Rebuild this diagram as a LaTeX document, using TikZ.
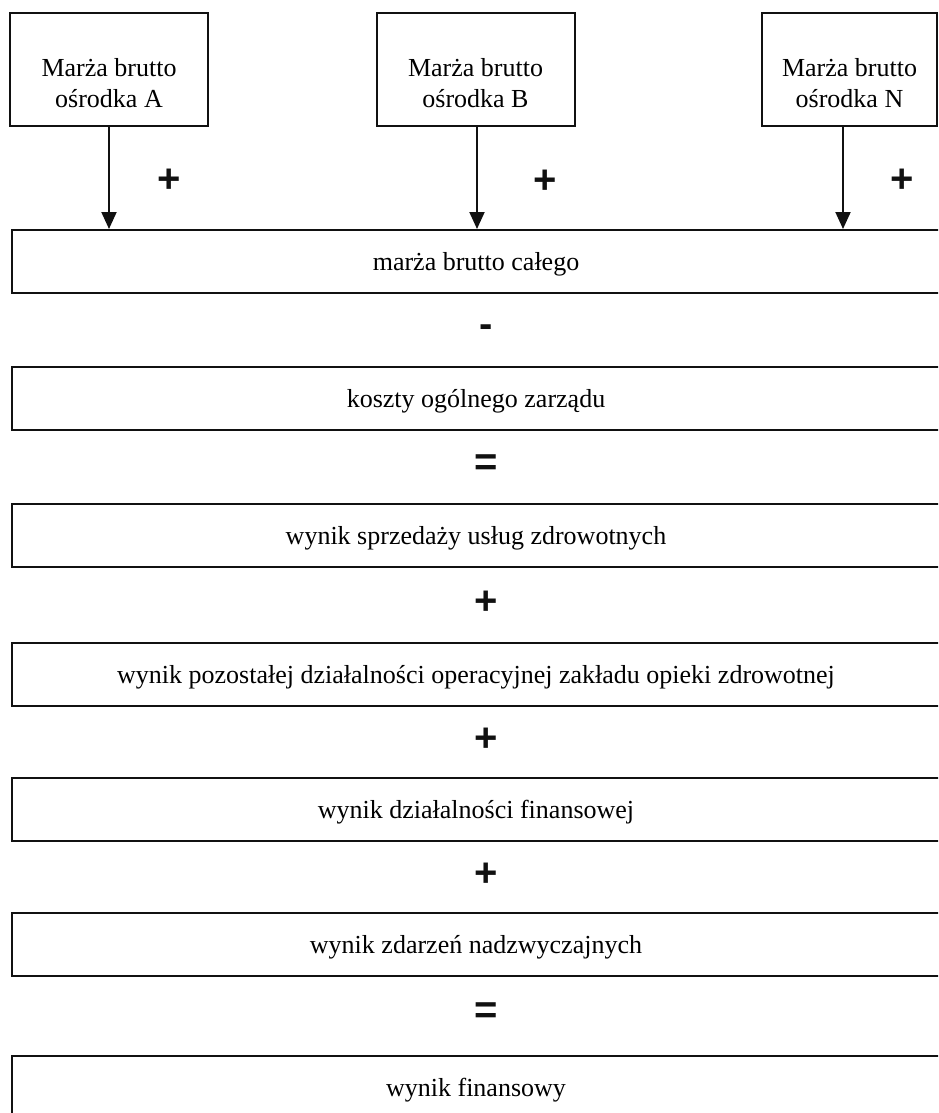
\documentclass[tikz,border=0pt]{standalone}
\usepackage{fontspec}
\setmainfont{Liberation Serif}
\setsansfont{Liberation Sans}
\usetikzlibrary{arrows.meta,positioning}
\definecolor{mbInk}{HTML}{111111}
\tikzset{
  mbtop/.style={rectangle,draw=mbInk,line width=2pt,minimum width=198pt,
                minimum height=113pt,inner sep=0pt,align=center,
                text height=95pt,text depth=18pt,
                font=\fontsize{26}{31}\selectfont},
  mbrow/.style={rectangle,draw=mbInk,line width=2pt,minimum width=928pt,
                minimum height=63pt,inner sep=0pt,text height=24pt,
                text depth=6pt,font=\fontsize{26}{31}\selectfont},
  mbsign/.style={font=\sffamily\bfseries\fontsize{40}{40}\selectfont,
                 inner sep=0pt,text=mbInk},
  mbarrow/.style={-{Triangle[length=17pt,width=15pt]},line width=2pt,mbInk}
}
\begin{document}
\begin{tikzpicture}[x=1pt,y=-1pt]
  \useasboundingbox (0,0) rectangle (938,1113);
  \clip (0,0) rectangle (938,1113);

  % osrodki
  \node[mbtop] (ma) at (109,69.5) {Marża brutto\\ośrodka A};
  \node[mbtop] (mb) at (475.5,69.5) {Marża brutto\\ośrodka B};
  \node[mbtop,minimum width=175pt] (mn) at (849.5,69.5)
    {Marża brutto\\ośrodka N};

  % kolejne wyniki
  \node[mbrow] (sum) at (476,261.5) {marża brutto całego};
  \node[mbrow] (koszty) at (476,398.5) {koszty ogólnego zarządu};
  \node[mbrow] (sprzedaz) at (476,535.5)
    {wynik sprzedaży usług zdrowotnych};
  \node[mbrow] (operac) at (476,674.5)
    {wynik pozostałej działalności operacyjnej zakładu opieki zdrowotnej};
  \node[mbrow] (finans) at (476,809.5) {wynik działalności finansowej};
  \node[mbrow] (nadzw) at (476,944.5) {wynik zdarzeń nadzwyczajnych};
  \node[mbrow] (wynik) at (476,1087.5) {wynik finansowy};

  \draw[mbarrow] (ma.south) -- (ma.south |- sum.north);
  \draw[mbarrow] ([xshift=1.5pt]mb.south) -- ([xshift=1.5pt]mb.south |- sum.north);
  \draw[mbarrow] ([xshift=-6.5pt]mn.south) -- ([xshift=-6.5pt]mn.south |- sum.north);
  \node[mbsign] (pa) at (169,181) {+};
  \node[mbsign] (pb) at (545,182) {+};
  \node[mbsign] (pn) at (902,181) {+};

  % znaki miedzy wierszami
  \node[mbsign] (op1) at (486,331) {-};
  \node[mbsign] (op2) at (486,465) {=};
  \node[mbsign] (op3) at (486,603) {+};
  \node[mbsign] (op4) at (486,740) {+};
  \node[mbsign] (op5) at (486,875) {+};
  \node[mbsign] (op6) at (486,1013) {=};
\end{tikzpicture}
\end{document}
